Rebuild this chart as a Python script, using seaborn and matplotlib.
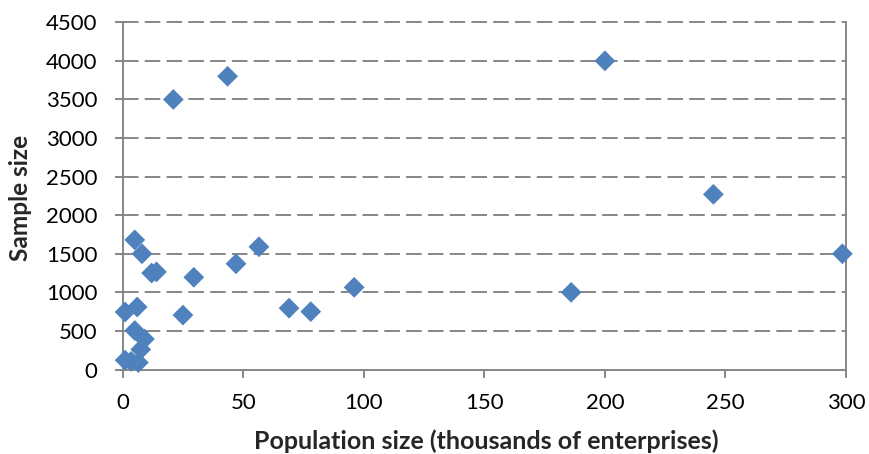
import matplotlib
matplotlib.use("Agg")
import matplotlib.pyplot as plt
import seaborn as sns
import pandas as pd

# ---- data ----
population = [5, 8, 12, 14, 29.5, 47, 56.5, 1, 6, 25, 69, 78, 96,
              5, 9, 7.5, 1, 3.5, 6.5, 21, 43.5, 200, 245, 298.5, 186]
sample = [1680, 1500, 1250, 1265, 1195, 1370, 1590, 745, 810, 705, 795, 750, 1065,
          505, 395, 260, 120, 105, 90, 3500, 3800, 4000, 2270, 1500, 1000]
x_ticks = [0, 50, 100, 150, 200, 250, 300]
y_ticks = [0, 500, 1000, 1500, 2000, 2500, 3000, 3500, 4000, 4500]
x_label = "Population size (thousands of enterprises)"
y_label = "Sample size"

df = pd.DataFrame({"population": population, "sample": sample})

sns.set_style("white")
plt.rcParams["font.family"] = ["Lato", "DejaVu Sans"]

W, H, DPI = 870, 454, 100
fig = plt.figure(figsize=(W / DPI, H / DPI), dpi=DPI)
L, R, T, B = 122.7, 846.0, 22.3, 369.5
ax = fig.add_axes([L / W, 1 - B / H, (R - L) / W, (B - T) / H])

GRAY = "#868686"
BLUE = "#4F81BD"

sns.scatterplot(data=df, x="population", y="sample", ax=ax, marker="D",
                s=112, color=BLUE, edgecolor="none", linewidth=0,
                clip_on=False, zorder=5, legend=False)

ax.set_xlim(0, 300)
ax.set_ylim(0, 4500)
ax.set_xticks(x_ticks)
ax.set_yticks(y_ticks)
ax.set_xticklabels([str(v) for v in x_ticks])
ax.set_yticklabels([str(v) for v in y_ticks])

# dashed horizontal gridlines
lw = 1.4
for v in y_ticks[1:]:
    ax.axhline(v, color=GRAY, lw=lw, linestyle=(0, (8.0, 3.2)), zorder=1,
               clip_on=False)

ax.spines["top"].set_visible(False)
for side in ["left", "bottom", "right"]:
    ax.spines[side].set_visible(True)
    ax.spines[side].set_color(GRAY)
    ax.spines[side].set_linewidth(lw)
    ax.spines[side].set_zorder(2)

ax.tick_params(axis="both", direction="out", length=5.8, width=lw,
               color=GRAY, labelsize=16, labelcolor="black")
ax.tick_params(axis="y", pad=12.2, left=True, right=False)
ax.tick_params(axis="x", pad=11.0, bottom=True)

# axis titles
xl = ax.set_xlabel(x_label, fontweight="bold", fontsize=16)
yl = ax.set_ylabel(y_label, fontweight="bold", fontsize=16)

# fit label widths to the reference
fig.canvas.draw()
rend = fig.canvas.get_renderer()
wx = xl.get_window_extent(rend).width
xl.set_fontsize(16 * 466.0 / wx)
wy = yl.get_window_extent(rend).height
yl.set_fontsize(16 * 127.0 / wy)

ax.xaxis.set_label_coords((486.6 - L) / (R - L), (B - 452.5) / (B - T))
xl.set_verticalalignment("bottom")
ax.yaxis.set_label_coords((20.5 - L) / (R - L), (B - 198.4) / (B - T))
yl.set_verticalalignment("center")

fig.savefig("out.png", dpi=DPI)
